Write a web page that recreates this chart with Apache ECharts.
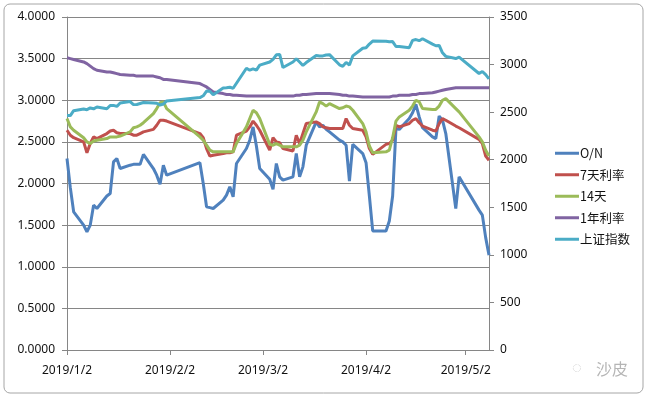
<!DOCTYPE html>
<html>
<head>
<meta charset="utf-8">
<script src="https://cdn.jsdelivr.net/npm/echarts@6/dist/echarts.min.js"></script>
<style>
  html, body { margin: 0; padding: 0; background: #fff; }
  #main { width: 648px; height: 397px; }
</style>
</head>
<body>
<div id="main"></div>
<script>
// 交易日
var tradeDates = [
  '2019/1/2','2019/1/3','2019/1/4','2019/1/7','2019/1/8','2019/1/9','2019/1/10','2019/1/11',
  '2019/1/14','2019/1/15','2019/1/16','2019/1/17','2019/1/18','2019/1/21','2019/1/22','2019/1/23',
  '2019/1/24','2019/1/25','2019/1/28','2019/1/29','2019/1/30','2019/1/31',
  '2019/2/1','2019/2/11','2019/2/12','2019/2/13','2019/2/14','2019/2/15','2019/2/18','2019/2/19',
  '2019/2/20','2019/2/21','2019/2/22','2019/2/25','2019/2/26','2019/2/27','2019/2/28',
  '2019/3/1','2019/3/4','2019/3/5','2019/3/6','2019/3/7','2019/3/8','2019/3/11','2019/3/12',
  '2019/3/13','2019/3/14','2019/3/15','2019/3/18','2019/3/19','2019/3/20','2019/3/21','2019/3/22',
  '2019/3/25','2019/3/26','2019/3/27','2019/3/28','2019/3/29',
  '2019/4/1','2019/4/2','2019/4/3','2019/4/4','2019/4/8','2019/4/9','2019/4/10','2019/4/11',
  '2019/4/12','2019/4/15','2019/4/16','2019/4/17','2019/4/18','2019/4/19','2019/4/22','2019/4/23',
  '2019/4/24','2019/4/25','2019/4/26','2019/4/29','2019/4/30',
  '2019/5/6','2019/5/7','2019/5/8','2019/5/9'
];
// 隔夜
var onRate = [
  2.30,1.95,1.66,1.50,1.42,1.50,1.74,1.70,
  1.85,1.88,2.26,2.30,2.18,2.22,2.23,2.23,
  2.23,2.35,2.18,2.10,1.99,2.22,
  2.10,2.25,2.00,1.72,1.71,1.70,1.80,1.86,
  1.96,1.84,2.24,2.42,2.52,2.68,2.45,
  2.18,2.05,1.93,2.24,2.08,2.04,2.08,2.36,
  2.08,2.20,2.46,2.74,2.68,2.70,2.65,2.62,
  2.52,2.50,2.46,2.03,2.47,
  2.36,2.25,1.85,1.43,1.43,1.55,1.85,2.66,
  2.65,2.78,2.85,2.95,2.80,2.67,2.56,2.54,
  2.81,2.76,2.60,1.70,2.08,
  1.68,1.62,1.35,1.14
];
// 7天利率
var d7Rate = [
  2.64,2.58,2.55,2.50,2.37,2.48,2.56,2.54,
  2.60,2.63,2.64,2.61,2.60,2.60,2.58,2.58,
  2.60,2.62,2.65,2.70,2.76,2.76,
  2.75,2.60,2.55,2.42,2.33,2.34,2.36,2.37,
  2.37,2.38,2.58,2.63,2.68,2.75,2.70,
  2.64,2.40,2.55,2.50,2.49,2.42,2.39,2.58,
  2.48,2.60,2.72,2.74,2.72,2.68,2.67,2.66,
  2.66,2.66,2.78,2.70,2.66,
  2.64,2.56,2.42,2.35,2.47,2.48,2.52,2.70,
  2.68,2.72,2.76,2.78,2.73,2.69,2.64,2.63,
  2.72,2.78,2.76,2.69,2.67,
  2.53,2.48,2.33,2.28
];
// 14天
var d14Rate = [
  2.78,2.68,2.64,2.55,2.50,2.48,2.51,2.52,
  2.54,2.56,2.56,2.56,2.57,2.62,2.67,2.68,
  2.70,2.73,2.84,2.90,2.97,2.98,
  2.90,2.56,2.52,2.46,2.40,2.38,2.38,2.38,
  2.38,2.38,2.48,2.68,2.78,2.88,2.85,
  2.78,2.47,2.46,2.48,2.46,2.44,2.44,2.44,
  2.46,2.52,2.62,2.86,2.98,2.96,2.93,2.96,
  2.90,2.91,2.93,2.92,2.88,
  2.72,2.62,2.45,2.37,2.38,2.40,2.55,2.75,
  2.80,2.88,2.93,3.00,2.98,2.90,2.89,2.89,
  2.93,3.00,3.02,2.90,2.86,
  2.56,2.50,2.40,2.33
];
// 1年利率
var y1Rate = [
  3.51,3.50,3.49,3.46,3.44,3.41,3.38,3.36,
  3.34,3.34,3.33,3.32,3.31,3.30,3.30,3.29,
  3.29,3.29,3.29,3.28,3.27,3.25,
  3.25,3.20,3.18,3.16,3.13,3.10,3.08,3.07,
  3.07,3.06,3.06,3.05,3.05,3.05,3.05,
  3.05,3.05,3.05,3.05,3.05,3.05,3.05,3.06,
  3.06,3.07,3.07,3.08,3.08,3.08,3.08,3.08,
  3.07,3.06,3.06,3.05,3.05,
  3.04,3.04,3.04,3.04,3.04,3.04,3.05,3.05,
  3.06,3.06,3.07,3.07,3.08,3.08,3.09,3.10,
  3.11,3.12,3.13,3.15,3.15,
  3.15,3.15,3.15,3.15
];
// 上证指数
var sseIndex = [
  2465,2464,2515,2533,2526,2544,2535,2554,
  2536,2570,2571,2560,2596,2611,2579,2581,
  2591,2601,2597,2594,2575,2585,
  2618,2653,2672,2721,2720,2682,2754,2756,
  2761,2751,2804,2961,2941,2954,2941,
  2994,3027,3054,3103,3106,2969,3027,3061,
  3027,2991,3021,3096,3091,3091,3101,3104,
  2998,2982,3023,2995,3091,
  3171,3176,3216,3247,3245,3239,3242,3190,
  3189,3178,3254,3263,3251,3271,3215,3198,
  3201,3124,3086,3063,3078,
  2906,2927,2894,2850
];
var tickDates = ['2019/1/2', '2019/2/2', '2019/3/2', '2019/4/2', '2019/5/2'];

// 日期轴：逐日
var days = [];
for (var t = new Date(2019, 0, 2); t <= new Date(2019, 4, 9); t.setDate(t.getDate() + 1)) {
  days.push(t.getFullYear() + '/' + (t.getMonth() + 1) + '/' + t.getDate());
}

function pairs(vals) {
  return tradeDates.map(function (d, i) { return [d, vals[i]]; });
}

var fontFamily = '"Noto Sans", "Noto Sans CJK SC", sans-serif';
var isTick = function (idx, val) { return tickDates.indexOf(val) >= 0; };

var myChart = echarts.init(document.getElementById('main'));
var option = {
  backgroundColor: '#fff',
  animation: false,
  textStyle: { fontFamily: fontFamily },
  color: ['#4F81BD', '#C0504D', '#9BBB59', '#8064A2', '#4BACC6'],
  grid: { left: 67, right: 159, top: 17, bottom: 47 },
  legend: {
    orient: 'vertical',
    left: 550,
    top: 142,
    itemWidth: 24,
    itemHeight: 3,
    itemGap: 9,
    icon: 'rect',
    textStyle: { fontSize: 12.5, color: '#111', padding: [0, 0, 0, -4], fontFamily: '"Noto Sans CJK SC", sans-serif' },
    data: ['O/N', '7天利率', '14天', '1年利率', '上证指数']
  },
  xAxis: {
    type: 'category',
    data: days,
    boundaryGap: false,
    axisLine: { lineStyle: { color: '#868686', width: 1 } },
    axisTick: { interval: isTick, length: 5, lineStyle: { color: '#868686' } },
    axisLabel: { interval: isTick, margin: 15, fontSize: 12, color: '#111' },
    splitLine: { show: false }
  },
  yAxis: [{
    type: 'value',
    min: 0, max: 4, interval: 0.5,
    axisLine: { show: true, lineStyle: { color: '#868686' } },
    axisTick: { show: true, length: 5, lineStyle: { color: '#868686' } },
    axisLabel: { margin: 12, fontSize: 12, color: '#111', formatter: function (v) { return v.toFixed(4); } },
    splitLine: { lineStyle: { color: '#868686', width: 1 } }
  }, {
    type: 'value',
    min: 0, max: 3500, interval: 500,
    axisLine: { show: true, lineStyle: { color: '#868686' } },
    axisTick: { show: true, length: 5, lineStyle: { color: '#868686' } },
    axisLabel: { margin: 11, fontSize: 12, color: '#111', formatter: function (v) { return String(v); } },
    splitLine: { show: false }
  }],
  series: [
    { name: 'O/N', type: 'line', data: pairs(onRate) },
    { name: '7天利率', type: 'line', data: pairs(d7Rate) },
    { name: '14天', type: 'line', data: pairs(d14Rate) },
    { name: '1年利率', type: 'line', data: pairs(y1Rate) },
    { name: '上证指数', type: 'line', yAxisIndex: 1, data: pairs(sseIndex) }
  ].map(function (s) {
    s.symbol = 'none';
    s.lineStyle = { width: 3 };
    return s;
  }),
  graphic: [{
    type: 'rect',
    silent: true,
    shape: { x: 4, y: 4, width: 639, height: 389, r: 6 },
    style: { fill: 'none', stroke: '#a6a6a6', lineWidth: 1 }
  }, {
    type: 'text',
    silent: true,
    left: 596, top: 361,
    style: { text: '沙皮', fill: '#b5b5b5', fontSize: 16, fontFamily: '"Noto Sans CJK SC", sans-serif' }
  }, {
    type: 'text',
    silent: true,
    left: 572, top: 361,
    style: { text: '◌', fill: '#c8c8c8', fontSize: 16 }
  }]
};

option && myChart.setOption(option, true);
</script>
</body>
</html>
